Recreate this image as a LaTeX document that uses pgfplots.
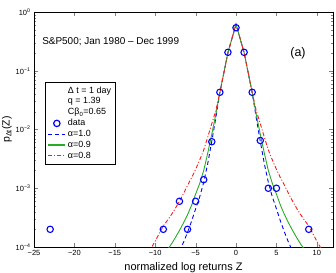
\documentclass[border=0pt]{standalone}
\usepackage{pgfplots}
\pgfplotsset{compat=1.18}
\usepackage{fontspec}
\setmainfont{Liberation Sans}
\definecolor{mblue}{rgb}{0,0,1}
\definecolor{mgreen}{rgb}{0.15,0.68,0.15}
\definecolor{mred}{rgb}{1,0.1,0.1}
\begin{document}
\begin{tikzpicture}
\begin{axis}[
 scale only axis, width=299bp, height=235bp,
 xmin=-25, xmax=12, ymin=1e-4, ymax=1,
 ymode=log,
 axis line style={line width=0.7pt},
 xtick={-25,-20,-15,-10,-5,0,5,10},
 xticklabels={−25,−20,−15,−10,−5,0,5,10},
 ytick={1e-4,1e-3,1e-2,1e-1,1},
 yticklabels={10\textsuperscript{−4},10\textsuperscript{−3},10\textsuperscript{−2},10\textsuperscript{−1},10\textsuperscript{0}},
 tick align=inside, tick pos=both,
 major tick length=4bp, minor tick length=2bp,
 ticklabel style={font=\fontsize{7.5}{9}\selectfont},
 xlabel={normalized log returns Z},
 xlabel style={font=\fontsize{11}{13}\selectfont},
 ylabel={p\textsubscript{Δt}(Z)},
 ylabel style={font=\fontsize{10.5}{12}\selectfont},
 ylabel shift=-3bp,
 legend style={at={(rel axis cs:0.037,0.702)}, anchor=north west, font=\fontsize{9}{10}\selectfont, inner sep=2.5pt, row sep=-1pt},
 legend image post style={line width=1.2pt},
 legend cell align=left,
 clip=true,
]
\addlegendimage{empty legend}\addlegendentry{Δ t = 1 day}
\addlegendimage{empty legend}\addlegendentry{q = 1.39}
\addlegendimage{empty legend}\addlegendentry{Cβ\textsubscript{0}=0.65}
\addplot[only marks, mark=o, mark size=3.2bp, draw=mblue, line width=1.1pt] coordinates {
(-23,2e-4)(-9,2e-4)(-7,6e-4)(-6,2e-4)(-5,6e-4)(-4,1.4e-3)(-3,6.2e-3)(-2,0.043)(-1,0.206)(0,0.54)(1,0.206)(2,0.043)(3,6.5e-3)(4,1e-3)(5,1e-3)(9,2e-4)};
\addlegendentry{data}
\addplot[draw=mblue, line width=0.9pt, dash pattern=on 4bp off 3bp] coordinates {
(-7,8.5e-5)(-6.5,1.2e-4)(-6,1.78e-4)(-5.5,2.75e-4)(-5,4.47e-4)(-4.5,7.08e-4)(-4,1.26e-3)(-3.5,2.63e-3)(-3,6.31e-3)(-2.5,0.0158)(-2,0.0427)(-1,0.204)(0,0.617)
(1,0.204)(2,0.0427)(2.5,0.0158)(3,6.31e-3)(3.5,2.63e-3)(4,1.26e-3)(4.5,7.08e-4)(5,4.47e-4)(5.5,2.75e-4)(6,1.78e-4)(6.5,1.2e-4)(7,8.5e-5)};
\addlegendentry{α=1.0}
\addplot[draw=mgreen, line width=0.9pt] coordinates {
(-9,7.1e-5)(-8.5,8.9e-5)(-8,1.12e-4)(-7.5,1.45e-4)(-7,1.91e-4)(-6.5,2.57e-4)(-6,3.55e-4)(-5.5,5.13e-4)(-5,7.94e-4)(-4.5,1.2e-3)(-4,2e-3)(-3.5,3.98e-3)(-3,8.32e-3)(-2.5,0.0182)(-2,0.0427)(-1,0.204)(0,0.617)
(1,0.204)(2,0.0427)(2.5,0.0182)(3,8.32e-3)(3.5,3.98e-3)(4,2e-3)(4.5,1.2e-3)(5,7.94e-4)(5.5,5.13e-4)(6,3.55e-4)(6.5,2.57e-4)(7,1.91e-4)(7.5,1.45e-4)(8,1.12e-4)(8.5,8.9e-5)(9,7.1e-5)};
\addlegendentry{α=0.9}
\addplot[draw=mred, line width=0.9pt, dash pattern=on 4bp off 2bp on 1bp off 2bp] coordinates {
(-11,7.6e-5)(-10.5,9.55e-5)(-10,1.26e-4)(-9.5,1.7e-4)(-9,2.29e-4)(-8.5,2.82e-4)(-8,3.55e-4)(-7.5,4.57e-4)(-7,6.03e-4)(-6.5,8.13e-4)(-6,1.12e-3)(-5.5,1.51e-3)(-5,2.09e-3)(-4.5,3.02e-3)(-4,4.47e-3)(-3.5,7.41e-3)(-3,0.0126)(-2.5,0.0209)(-2,0.0427)(-1,0.204)(0,0.617)
(1,0.204)(2,0.0427)(2.5,0.0209)(3,0.0126)(3.5,7.41e-3)(4,4.47e-3)(4.5,3.02e-3)(5,2.09e-3)(5.5,1.51e-3)(6,1.12e-3)(6.5,8.13e-4)(7,6.03e-4)(7.5,4.57e-4)(8,3.55e-4)(8.5,2.82e-4)(9,2.29e-4)(9.5,1.7e-4)(10,1.26e-4)(10.5,9.55e-5)(11,7.6e-5)};
\addlegendentry{α=0.8}
\node[anchor=west, font=\fontsize{10}{12}\selectfont, inner sep=0pt] at (rel axis cs:0.027,0.872) {S\&P500; Jan 1980 – Dec 1999};
\node[font=\fontsize{12.5}{14}\selectfont, inner sep=0pt] at (rel axis cs:0.883,0.826) {(a)};
\end{axis}
\pgfresetboundingbox
\path ([xshift=-34bp,yshift=-26bp]current axis.south west) rectangle ([xshift=3bp,yshift=12bp]current axis.north east);
\end{tikzpicture}
\end{document}
